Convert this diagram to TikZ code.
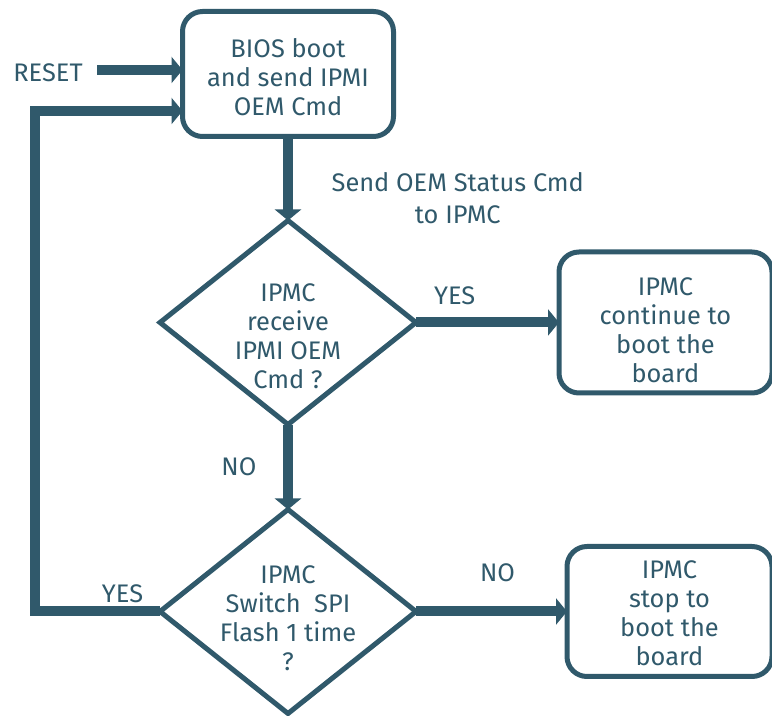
\documentclass[tikz,border=0pt]{standalone}
\usepackage{fontspec}
\setmainfont{Fira Sans}
\usepackage{xcolor}
\usepackage{tikz}
\usetikzlibrary{positioning}
\usetikzlibrary{arrows.meta,shapes.geometric}

\definecolor{ipmcblue}{RGB}{48,89,107}

\begin{document}
\begin{tikzpicture}[
	font=\fontsize{12.7}{14.5}\selectfont, text=ipmcblue,
	box/.style={draw=ipmcblue, line width=2.5pt, rounded corners=10pt, inner sep=0pt, outer sep=0pt},
	decision/.style={draw=ipmcblue, line width=2.5pt, diamond, inner sep=0pt, outer sep=0pt, minimum width=128pt, minimum height=102pt},
	txt/.style={align=center, yshift=#1},
	flow/.style={draw=ipmcblue, line width=5pt, -{Triangle[length=5.5pt,width=13pt]}}
	]
	\useasboundingbox (0,0) rectangle (386pt,-358pt);
	
	\node[box, minimum width=105.5pt, minimum height=62.5pt, label={[txt=-1.75pt]center:BIOS boot\\and send IPMI\\OEM Cmd}] (bios) at (144pt,-37pt) {};
	
	\node[decision, label={[txt=-7pt]center:IPMC\\receive\\IPMI OEM\\Cmd ?}] (recv) [below = 42pt of bios] {};
	\node[box, minimum width=106.5pt, minimum height=70.5pt, label={[txt=-4pt]center:IPMC\\continue to\\boot the\\board}] (cont) [right = 71.5pt of recv] {};
	
	\node[decision, label={[txt=-3.5pt]center:IPMC\\Switch\ \ SPI\\Flash 1 time\\?}] (switch) [below = 42.5pt of recv] {};
	\node[box, minimum width=102.5pt, minimum height=65pt, label={[txt=-1pt]center:IPMC\\stop to\\boot the\\board}] (stop) [right = 75.5pt of switch] {};
	
	\node (reset) at (24pt,-36.5pt) {RESET};
	\coordinate (rs) at (48.5pt,-35pt);
	
	\draw[flow] (rs) -- (rs -| bios.west);
	\draw[flow] (bios) -- node [right=16pt, pos=0.73, align=center, font=\fontsize{12.7}{16}\selectfont] {Send OEM Status Cmd\\to IPMC} (recv);
	\draw[flow] (recv) -- node [above=3pt, pos=0.27] {YES} (cont);
	\draw[flow] (recv) -- node [left=10pt] {NO} (switch);
	\draw[flow] (switch) -- node [above=9pt, pos=0.54] {NO} (stop);
	\draw[flow] (switch.west) -- node [above=-1.5pt, pos=0.3] {YES} ++(-62.5pt,0) |- ([yshift=-18.5pt]bios.west);
\end{tikzpicture}
\end{document}
